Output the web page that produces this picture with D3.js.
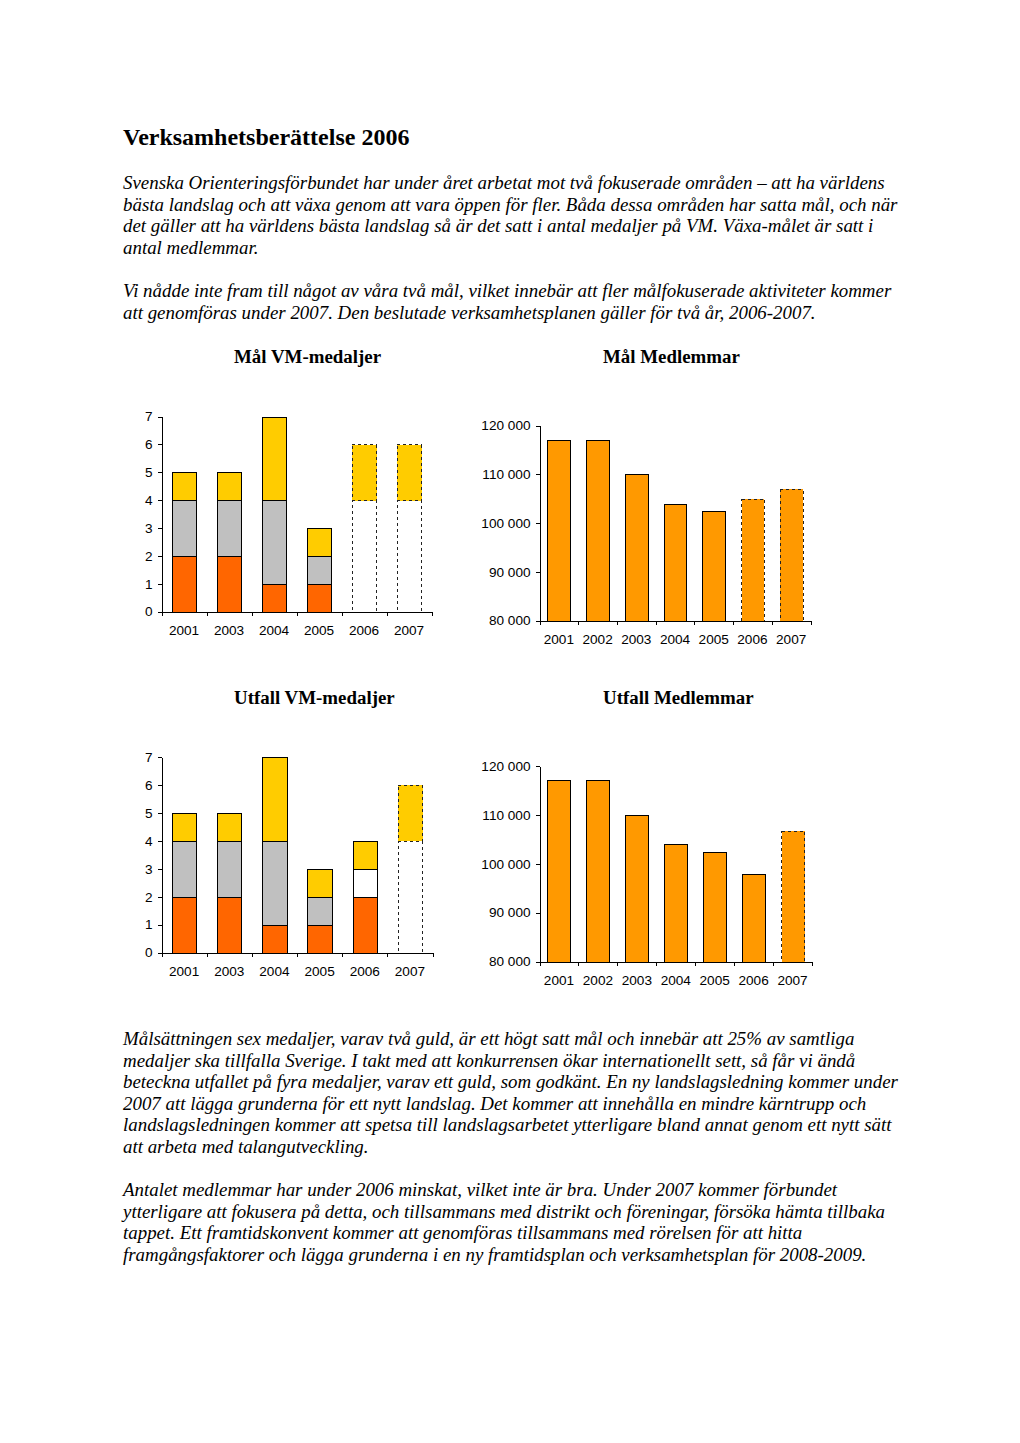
<!DOCTYPE html>
<html><head><meta charset="utf-8">
<script src="https://cdn.jsdelivr.net/npm/d3@7"></script>
<style>body{margin:0;background:#fff}svg{display:block}</style>
</head><body>
<script>
// ---------- DATA ----------
const medalYears = ["2001","2003","2004","2005","2006","2007"];
const malGuld   = [2,2,1,1,0,0];
const malSilver = [2,2,3,1,0,0];
const malOvrigt = [0,0,0,0,4,4];
const malBrons  = [1,1,3,1,2,2];
const malPlanned = [false,false,false,false,true,true];

const utfGuld   = [2,2,1,1,2,0];
const utfSilver = [2,2,3,1,0,0];
const utfOvrigt = [0,0,0,0,1,4];
const utfBrons  = [1,1,3,1,1,2];
const utfPlanned = [false,false,false,false,false,true];

const memberYears = ["2001","2002","2003","2004","2005","2006","2007"];
const malMembers = [117100,117100,110000,104000,102400,105000,107000];
const malMembersPlanned = [false,false,false,false,false,true,true];
const utfMembers = [117100,117100,110000,104000,102400,97900,106800];
const utfMembersPlanned = [false,false,false,false,false,false,true];

const medalTicks = [0,1,2,3,4,5,6,7];
const memberTicks = [80000,90000,100000,110000,120000];

const titleText = "Verksamhetsberättelse 2006";
const introLines = [
 "Svenska Orienteringsförbundet har under året arbetat mot två fokuserade områden – att ha världens",
 "bästa landslag och att växa genom att vara öppen för fler. Båda dessa områden har satta mål, och när",
 "det gäller att ha världens bästa landslag så är det satt i antal medaljer på VM. Växa-målet är satt i",
 "antal medlemmar."
];
const goalLines = [
 "Vi nådde inte fram till något av våra två mål, vilket innebär att fler målfokuserade aktiviteter kommer",
 "att genomföras under 2007. Den beslutade verksamhetsplanen gäller för två år, 2006-2007."
];
const medalLines = [
 "Målsättningen sex medaljer, varav två guld, är ett högt satt mål och innebär att 25% av samtliga",
 "medaljer ska tillfalla Sverige. I takt med att konkurrensen ökar internationellt sett, så får vi ändå",
 "beteckna utfallet på fyra medaljer, varav ett guld, som godkänt. En ny landslagsledning kommer under",
 "2007 att lägga grunderna för ett nytt landslag. Det kommer att innehålla en mindre kärntrupp och",
 "landslagsledningen kommer att spetsa till landslagsarbetet ytterligare bland annat genom ett nytt sätt",
 "att arbeta med talangutveckling."
];
const memberLines = [
 "Antalet medlemmar har under 2006 minskat, vilket inte är bra. Under 2007 kommer förbundet",
 "ytterligare att fokusera på detta, och tillsammans med distrikt och föreningar, försöka hämta tillbaka",
 "tappet. Ett framtidskonvent kommer att genomföras tillsammans med rörelsen för att hitta",
 "framgångsfaktorer och lägga grunderna i en ny framtidsplan och verksamhetsplan för 2008-2009."
];
const chartTitles = ["Mål VM-medaljer","Mål Medlemmar","Utfall VM-medaljer","Utfall Medlemmar"];

// ---------- PAGE ----------
const W = 1020, H = 1443;
const svg = d3.select("body").append("svg").attr("width", W).attr("height", H);
svg.append("rect").attr("width", W).attr("height", H).attr("fill", "#fff");

const serif = "'Liberation Serif','Times New Roman',serif";
const sans = "'Liberation Sans',Arial,sans-serif";

svg.append("text").attr("x", 123).attr("y", 145)
  .attr("font-family", serif).attr("font-weight", "bold").attr("font-size", 24)
  .text(titleText);

function para(lines, y0) {
  const g = svg.append("g");
  g.selectAll("text").data(lines).join("text")
    .attr("x", 123).attr("y", (d, i) => y0 + i * 21.6)
    .attr("font-family", serif).attr("font-style", "italic").attr("font-size", 18.9)
    .text(d => d);
}
para(introLines, 189);
para(goalLines, 297);
para(medalLines, 1045);
para(memberLines, 1196);

const titlePos = [[234,363],[603,363],[234,704],[603,704]];
chartTitles.forEach((t, i) => {
  svg.append("text").attr("x", titlePos[i][0]).attr("y", titlePos[i][1])
    .attr("font-family", serif).attr("font-weight", "bold").attr("font-size", 18.9)
    .text(t);
});

const fmt = d3.formatLocale({decimal: ",", thousands: " ", grouping: [3], currency: ["", ""]}).format(",d");
const dotted = "3,3";

function axes(g, x, y, x0, x1, y0, y1, cats, yticks, yfmt) {
  const ya = g.append("g").attr("transform", `translate(${x0},0)`)
    .call(d3.axisLeft(y).tickValues(yticks).tickSize(4).tickSizeOuter(0).tickPadding(5).tickFormat(yfmt));
  ya.select(".domain").attr("stroke", "#000");
  ya.selectAll(".tick line").attr("stroke", "#000");
  ya.selectAll("text").attr("font-family", sans).attr("font-size", 13.6).attr("fill", "#000");
  const n = cats.length;
  const xl = d3.scaleLinear().domain([0, n]).range([x0, x1]);
  const xa = g.append("g").attr("transform", `translate(0,${y0})`)
    .call(d3.axisBottom(xl).tickValues(d3.range(n + 1)).tickSize(4).tickSizeOuter(0).tickFormat(""));
  xa.select(".domain").attr("stroke", "#000");
  xa.selectAll(".tick line").attr("stroke", "#000");
  const xb = g.append("g").attr("transform", `translate(0,${y0})`)
    .call(d3.axisBottom(x).tickSize(0).tickPadding(14));
  xb.select(".domain").remove();
  xb.selectAll("text").attr("font-family", sans).attr("font-size", 13.6).attr("fill", "#000");
}

function medalChart(cfg, guld, silver, ovrigt, brons, planned) {
  const g = svg.append("g").attr("shape-rendering", "crispEdges");
  const x = d3.scaleBand().domain(medalYears).range([cfg.x0, cfg.x1]).paddingInner(0.46).paddingOuter(0.23);
  const y = d3.scaleLinear().domain([0, 7]).range([cfg.y0, cfg.y1]);
  const rows = medalYears.map((yr, i) => ({year: yr, guld: guld[i], silver: silver[i], ovrigt: ovrigt[i], brons: brons[i], planned: planned[i]}));
  const keys = ["guld", "silver", "ovrigt", "brons"];
  const colors = {guld: "#FF6600", silver: "#C0C0C0", ovrigt: "#FFFFFF", brons: "#FFCC00"};
  const series = d3.stack().keys(keys)(rows);
  series.forEach(s => {
    g.append("g").selectAll("rect").data(s.filter(d => d[1] - d[0] > 0)).join("rect")
      .attr("x", d => x(d.data.year) + 0.5)
      .attr("width", x.bandwidth())
      .attr("y", d => y(d[1]) + 0.5)
      .attr("height", d => y(d[0]) - y(d[1]))
      .attr("fill", colors[s.key])
      .attr("stroke", d => d.data.planned ? "#222" : "#000")
      .attr("stroke-width", 1)
      .attr("stroke-dasharray", d => d.data.planned ? dotted : null);
  });
  axes(g, x, y, cfg.x0, cfg.x1, cfg.y0, cfg.y1, medalYears, medalTicks, d3.format("d"));
}

function memberChart(cfg, vals, planned) {
  const g = svg.append("g").attr("shape-rendering", "crispEdges");
  const x = d3.scaleBand().domain(memberYears).range([cfg.x0, cfg.x1]).paddingInner(0.41).paddingOuter(0.205);
  const y = d3.scaleLinear().domain([80000, 120000]).range([cfg.y0, cfg.y1]);
  const rows = memberYears.map((yr, i) => ({year: yr, v: vals[i], planned: planned[i]}));
  g.append("g").selectAll("rect").data(rows).join("rect")
    .attr("x", d => x(d.year) + 0.5)
    .attr("width", x.bandwidth())
    .attr("y", d => y(d.v) + 0.5)
    .attr("height", d => y(80000) - y(d.v))
    .attr("fill", "#FF9900")
    .attr("stroke", d => d.planned ? "#222" : "#000")
    .attr("stroke-width", 1)
    .attr("stroke-dasharray", d => d.planned ? dotted : null);
  axes(g, x, y, cfg.x0, cfg.x1, cfg.y0, cfg.y1, memberYears, memberTicks, fmt);
}

medalChart({x0: 161.5, x1: 431.5, y0: 611.5, y1: 416.5}, malGuld, malSilver, malOvrigt, malBrons, malPlanned);
medalChart({x0: 161.5, x1: 432.5, y0: 952.5, y1: 757}, utfGuld, utfSilver, utfOvrigt, utfBrons, utfPlanned);
memberChart({x0: 539.5, x1: 810.5, y0: 620.5, y1: 425.5}, malMembers, malMembersPlanned);
memberChart({x0: 539.5, x1: 812, y0: 961.5, y1: 766}, utfMembers, utfMembersPlanned);
</script>
</body></html>
